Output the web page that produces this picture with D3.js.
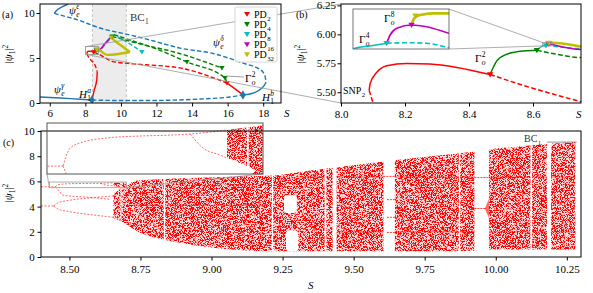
<!DOCTYPE html>
<html>
<head>
<meta charset="utf-8">
<script src="https://cdn.jsdelivr.net/npm/d3@7"></script>
<style>
  body { margin: 0; background: #fff; }
  svg { display: block; }
</style>
</head>
<body>
<svg id="fig" width="593" height="293"></svg>
<script>
// ---------- values: [S, |psi1|^2] ----------
// (a) stationary branch, split where stability changes
var blueSolid1 = [[5.45,0.67],[6.57,0.56],[7.70,0.41],[8.37,0.33]];
var blueDash1  = [[8.37,0.33],[9.95,0.28],[11.63,0.28],[14.44,0.44],[16.13,0.67],[16.86,0.89]];
var blueSolid2 = [[16.86,0.89],[17.42,1.08],[17.91,1.63],[18.13,2.19],[18.16,2.33]];
var blueDash2  = [[6.25,9.97],[6.57,9.78],[7.42,9.33],[8.82,8.33],[10.51,7.56],[11.63,7.0],[13.32,6.1],[15.18,5.5],[17.07,4.3],[17.6,3.95],[18.0,3.4],[18.1,3.0],[18.16,2.33]];
var blueSolid3 = [[6.25,9.97],[6.41,10.33],[6.69,10.67],[7.02,11.0]];

// periodic orbit branches
var redSolidA = [[8.37,0.33],[8.50,1.44],[8.64,2.56],[8.67,3.48]];
var redDashA  = [[8.088,5.517],[8.101,5.404],[8.14,5.25],[8.30,4.80],[8.54,4.22],[8.67,3.48]];
var redSolidB = [[8.088,5.517],[8.091,5.574],[8.112,5.672],[8.143,5.729],[8.205,5.748],[8.278,5.743],[8.362,5.714],[8.466,5.653]];
var redDashB  = [[8.466,5.653],[8.57,5.559],[8.674,5.475],[8.75,5.418],[9.55,4.6],[10.7,4.35],[13.3,3.9],[15.96,2.22]];
var redSolidC = [[15.96,2.22],[16.4,1.6],[16.86,0.89]];

var greenSolid = [[8.466,5.653],[8.487,5.771],[8.518,5.828],[8.57,5.856],[8.612,5.862]];
var greenDashL = [[8.612,5.862],[8.674,5.828],[8.75,5.799],[9.1,6.5],[9.5,7.4]];
var greenDashU = [[9.5,7.4],[11.0,6.6],[13.3,5.5],[15.68,3.89]];
var greenDashR = [[9.6,7.6],[10.2,7.2],[12.0,6.0],[13.71,4.56],[15.85,2.78],[15.96,2.22]];

var cyanSolid = [[8.612,5.862],[8.6306,5.9005],[8.6353,5.9023],[8.6405,5.9043]];
var cyanDash  = [[8.6405,5.9043],[8.6468,5.9047],[8.653,5.9043],[8.66,5.901],[8.75,5.877],[9.2,6.8],[9.55,7.5],[10.3,6.8],[11.18,5.67]];
var magentaLine = [[8.6405,5.9043],[8.6416,5.9105],[8.6437,5.9155],[8.6483,5.918],[8.653,5.9167],[8.66,5.9118],[8.75,5.869],[9.1,6.6],[9.45,7.35]];
var yellowA = [[8.6483,5.918],[8.6491,5.923],[8.6509,5.9255],[8.655,5.9268],[8.66,5.9268],[8.75,5.894],[9.22,5.35],[10.51,5.67]];
var yellowB = [[10.51,5.67],[9.665,6.89],[9.45,7.3]];

// bifurcation points
var hopfPts = [[8.37,0.33],[16.86,0.89]];
var pd2  = [[8.466,5.653],[15.96,2.22]];
var pd4  = [[8.612,5.862],[9.5,7.4],[13.71,4.56],[15.68,3.89],[15.85,2.78]];
var pd8  = [[8.6405,5.9043],[11.18,5.67]];
var pd16 = [[8.6483,5.918]];
var pd32 = [[8.6495,5.925],[9.45,7.3]];
var legendSubs = ["2","4","8","16","32"];

// shaded S range of panel (c)
var bandS = [8.40, 10.30];

// (c) bifurcation diagram: chaotic band outline
var chaosS  = [8.655,8.68,8.70,8.72,8.75,8.80,8.90,9.00,9.10,9.20,9.24,9.30,9.40,9.50,9.65,9.80,9.92,9.98,10.10,10.20,10.28];
var chaosLo = [3.1,2.85,2.6,2.3,1.9,1.55,1.1,0.75,0.55,0.45,0.45,0.45,0.45,0.45,0.45,0.45,0.5,0.6,0.6,0.6,0.6];
var chaosHi = [5.0,5.45,5.6,5.95,6.1,6.15,6.25,6.3,6.4,6.45,6.5,6.7,7.0,7.28,7.69,8.05,8.35,8.55,8.8,9.0,9.15];
var subS  = [8.655,8.68,8.70];
var subLo = [5.641,5.57,5.50];
var subHi = [5.888,5.91,5.93];
// periodic windows [S0, S1] and holes [S0, S1, low, high]
var gaps = [[8.680,8.682],[8.832,8.837],[9.212,9.217],[9.398,9.404],[9.426,9.440],[9.605,9.645],[9.870,9.875],[9.925,9.976],[10.122,10.128],[10.180,10.195]];
var holes = [[9.255,9.300,3.5,4.9],[9.262,9.305,0.45,2.1]];
// lines inside windows [S0, S1, value] and denser rows
var windowLines = [[9.617,9.645,4.55],[9.617,9.645,3.15],[9.617,9.645,1.95],[9.605,9.645,6.4],[9.925,9.966,3.85],[9.925,9.976,6.3]];
var fan = [[9.962,3.85,3.85],[9.976,3.1,4.6]];
var denseRows = [[8.70,9.20,4.1],[9.305,10.28,6.35],[9.44,10.28,2.0]];
// period-1 / period-2 branches before chaos
var p1   = [[8.40,5.57],[8.45,5.57]];
var p1u  = [[8.45,5.57],[8.459,5.729],[8.475,5.782],[8.505,5.818],[8.546,5.835],[8.5875,5.844],[8.609,5.853],[8.634,5.87],[8.655,5.888]];
var p1u2 = [[8.609,5.853],[8.625,5.729],[8.646,5.668],[8.655,5.641]];
var p1d  = [[8.45,5.57],[8.454,5.50],[8.465,5.2],[8.478,4.9],[8.56,4.75],[8.645,4.58]];
var p2   = [[8.40,4.05],[8.445,4.05]];
var p2u  = [[8.445,4.05],[8.46,4.3],[8.50,4.5],[8.58,4.7],[8.655,4.85]];
var p2d  = [[8.445,4.05],[8.46,3.8],[8.50,3.6],[8.58,3.35],[8.655,3.15]];

// ---------- drawing ----------
var BLUE = "#1f77b4", RED = "#ff0000", GREEN = "#008000", CYAN = "#00bfbf", MAGENTA = "#bf00bf", YELLOW = "#bfbf00";
var pdSets = [[pd2, RED], [pd4, GREEN], [pd8, CYAN], [pd16, MAGENTA], [pd32, YELLOW]];

var svg = d3.select("#fig").attr("font-family", "'Liberation Serif', 'Times New Roman', 'DejaVu Serif', serif");
var defs = svg.append("defs");
function clipRect(id, x0, y0, x1, y1) {
  defs.append("clipPath").attr("id", id).append("rect")
    .attr("x", x0).attr("y", y0).attr("width", x1 - x0).attr("height", y1 - y0);
  return "url(#" + id + ")";
}
// speckle texture for the chaotic cloud
var speck = defs.append("filter").attr("id", "speck").attr("x", 0).attr("y", 0).attr("width", 1).attr("height", 1);
speck.append("feTurbulence").attr("type", "fractalNoise").attr("baseFrequency", 1.4)
  .attr("numOctaves", 2).attr("seed", 7).attr("result", "noise");
speck.append("feColorMatrix").attr("in", "noise").attr("type", "matrix")
  .attr("values", "0 0 0 0 1  0 0 0 0 0  0 0 0 0 0  12 0 0 0 -5.6").attr("result", "dots");
speck.append("feComposite").attr("in", "dots").attr("in2", "SourceGraphic").attr("operator", "in");

var xa = d3.scaleLinear().domain([5.45, 19.0]).range([40, 281]);
var ya = d3.scaleLinear().domain([0, 11]).range([103, 4]);
var xb = d3.scaleLinear().domain([8.0, 8.75]).range([341, 581]);
var yb = d3.scaleLinear().domain([5.407, 6.262]).range([103, 4]);
var xbi = d3.scaleLinear().domain([8.63, 8.66]).range([353, 449]);
var ybi = d3.scaleLinear().domain([5.90, 5.93]).range([49, 9]);
var xc = d3.scaleLinear().domain([8.40, 10.30]).range([41, 581]);
var yc = d3.scaleLinear().domain([0, 10]).range([257, 131]);
var xci = d3.scaleLinear().domain([8.43, 8.70]).range([47, 263]);
var yci = d3.scaleLinear().domain([5.50, 5.95]).range([174, 123]);

var branches = [
  {d: blueSolid1, c: BLUE}, {d: blueDash1, c: BLUE, dash: 1}, {d: blueSolid2, c: BLUE},
  {d: blueDash2, c: BLUE, dash: 1}, {d: blueSolid3, c: BLUE},
  {d: redSolidA, c: RED}, {d: redDashA, c: RED, dash: 1}, {d: redSolidB, c: RED},
  {d: redDashB, c: RED, dash: 1}, {d: redSolidC, c: RED},
  {d: greenSolid, c: GREEN}, {d: greenDashL, c: GREEN, dash: 1},
  {d: greenDashU, c: GREEN, dash: 1}, {d: greenDashR, c: GREEN, dash: 1},
  {d: cyanSolid, c: CYAN}, {d: cyanDash, c: CYAN, dash: 1},
  {d: magentaLine, c: MAGENTA},
  {d: yellowA, c: YELLOW, w: 1.7}, {d: yellowB, c: YELLOW, w: 1.7, lin: 1}
];

function drawBranches(g, x, y, lw) {
  branches.forEach(function(b) {
    var line = d3.line().x(d => x(d[0])).y(d => y(d[1]))
      .curve(b.lin ? d3.curveLinear : d3.curveMonotoneX);
    g.append("path").datum(b.d).attr("d", line)
      .attr("fill", "none").attr("stroke", b.c)
      .attr("stroke-width", lw * (b.w || 1))
      .attr("stroke-dasharray", b.dash ? (3.2 * lw) + "," + (1.6 * lw) : null);
  });
}

function tri(h) { return "M" + (-h) + "," + (-h * 0.7) + "L" + h + "," + (-h * 0.7) + "L0," + (h * 0.95) + "Z"; }
function inside(x, y, p) {
  var dx = x.domain(), dy = y.domain();
  return p[0] >= dx[0] && p[0] <= dx[1] && p[1] >= dy[0] && p[1] <= dy[1];
}
function drawMarks(g, x, y, h) {
  pdSets.forEach(function(s) {
    s[0].filter(p => inside(x, y, p)).forEach(function(p) {
      g.append("path").attr("d", tri(h)).attr("fill", s[1])
        .attr("transform", "translate(" + x(p[0]) + "," + y(p[1]) + ")");
    });
  });
}

function mlabel(g, x, y, base, sub, sup, o) {
  o = o || {};
  var fs = o.fs || 11, fill = o.fill || "#000";
  var t = g.append("text").attr("x", x).attr("y", y).attr("font-size", fs).attr("fill", fill)
    .attr("font-style", o.it ? "italic" : null).text(base);
  var w = t.node().getComputedTextLength();
  var isLetter = s => /[a-zα-ω]/i.test(s);
  if (sub) g.append("text").attr("x", x + w + 0.4).attr("y", y + fs * 0.3)
    .attr("font-size", fs * 0.68).attr("fill", fill)
    .attr("font-style", isLetter(sub) ? "italic" : null).text(sub);
  if (sup) g.append("text").attr("x", x + w + 0.4).attr("y", y - fs * 0.42)
    .attr("font-size", fs * 0.68).attr("fill", fill)
    .attr("font-style", isLetter(sup) ? "italic" : null).text(sup);
}

function yLabel(x, y) {
  var t = svg.append("text").attr("transform", "translate(" + x + "," + y + ") rotate(-90)")
    .attr("text-anchor", "middle").attr("font-size", 11);
  t.append("tspan").text("|");
  t.append("tspan").attr("font-style", "italic").text("ψ");
  t.append("tspan").attr("font-size", 7.5).attr("dy", 2.5).text("1");
  t.append("tspan").attr("dy", -2.5).text("|");
  t.append("tspan").attr("font-size", 7.5).attr("dy", -4).text("2");
}

function axes(x, y, xt, yt, xf, yf, padX, padY) {
  var r = [x.range()[0], y.range()[1], x.range()[1], y.range()[0]];
  svg.append("g").attr("transform", "translate(0," + r[3] + ")")
    .call(d3.axisBottom(x).tickValues(xt).tickFormat(xf).tickSize(3.5).tickPadding(padX))
    .call(s => s.select(".domain").remove())
    .attr("font-family", null).attr("font-size", 11);
  svg.append("g").attr("transform", "translate(" + r[0] + ",0)")
    .call(d3.axisLeft(y).tickValues(yt).tickFormat(yf).tickSize(3.5).tickPadding(padY))
    .call(s => s.select(".domain").remove())
    .attr("font-family", null).attr("font-size", 11);
  svg.append("rect").attr("x", r[0]).attr("y", r[1]).attr("width", r[2] - r[0]).attr("height", r[3] - r[1])
    .attr("fill", "none").attr("stroke", "#000").attr("stroke-width", 1);
}

// ----- panel (a) -----
var ga = svg.append("g").attr("clip-path", clipRect("ca", 40, 4, 281, 103));
ga.append("rect").attr("x", xa(bandS[0])).attr("y", 4).attr("width", xa(bandS[1]) - xa(bandS[0])).attr("height", 99)
  .attr("fill", "#ececec");
bandS.forEach(function(s) {
  ga.append("line").attr("x1", xa(s)).attr("x2", xa(s)).attr("y1", 4).attr("y2", 103)
    .attr("stroke", "#c4c4c4").attr("stroke-width", 1).attr("stroke-dasharray", "3,2");
});
drawBranches(ga, xa, ya, 1.4);
hopfPts.forEach(function(p) {
  ga.append("path").attr("d", d3.symbol(d3.symbolDiamond, 26)()).attr("fill", BLUE)
    .attr("transform", "translate(" + xa(p[0]) + "," + ya(p[1]) + ")");
});
drawMarks(ga, xa, ya, 2.7);
// zoom box for (b)
ga.append("rect").attr("x", xa(8.0)).attr("y", ya(6.262)).attr("width", xa(8.75) - xa(8.0)).attr("height", ya(5.407) - ya(6.262))
  .attr("fill", "none").attr("stroke", "#8a8a8a").attr("stroke-width", 0.8);

mlabel(svg, 69, 14, "ψ", "e", "ε", {it: 1});
mlabel(svg, 54, 93, "ψ", "e", "γ", {it: 1});
mlabel(svg, 79, 97.5, "H", "1", "a", {it: 1});
mlabel(svg, 213, 46, "ψ", "e", "δ", {it: 1});
mlabel(svg, 262, 100.5, "H", "1", "b", {it: 1});
svg.append("line").attr("x1", xa(15.9)).attr("y1", ya(3.0)).attr("x2", 244).attr("y2", 77)
  .attr("stroke", "#888").attr("stroke-width", 0.8);
mlabel(svg, 245, 81.5, "Γ", "o", "2");
mlabel(svg, 130, 21, "BC", "1", null, {fill: "#333"});

// ----- panel (b) -----
var gb = svg.append("g").attr("clip-path", clipRect("cb", 341, 4, 581, 103));
drawBranches(gb, xb, yb, 1.5);
drawMarks(gb, xb, yb, 3.2);
gb.append("rect").attr("x", xb(8.63)).attr("y", yb(5.93)).attr("width", xb(8.66) - xb(8.63)).attr("height", yb(5.90) - yb(5.93))
  .attr("fill", "none").attr("stroke", "#8a8a8a").attr("stroke-width", 0.7);
mlabel(svg, 475, 61.5, "Γ", "o", "2");
mlabel(svg, 343, 94, "SNP", "2", null, {fs: 10});

// connectors (a) -> (b) and (b) inset
var conn = [[xa(8.0), ya(6.262), 341, 4], [xa(8.0), ya(5.407), 341, 103],
            [449, 9, xb(8.63), yb(5.93)], [449, 49, xb(8.63), yb(5.90)]];
conn.forEach(function(c) {
  svg.append("line").attr("x1", c[0]).attr("y1", c[1]).attr("x2", c[2]).attr("y2", c[3])
    .attr("stroke", "#999").attr("stroke-width", 0.8);
});

// inset of (b)
svg.append("rect").attr("x", 353).attr("y", 9).attr("width", 96).attr("height", 40).attr("fill", "#fff");
var gbi = svg.append("g").attr("clip-path", clipRect("cbi", 353, 9, 449, 49));
drawBranches(gbi, xbi, ybi, 1.6);
drawMarks(gbi, xbi, ybi, 3.2);
svg.append("rect").attr("x", 353).attr("y", 9).attr("width", 96).attr("height", 40)
  .attr("fill", "none").attr("stroke", "#666").attr("stroke-width", 0.9);
mlabel(svg, 384, 22, "Γ", "o", "8");
mlabel(svg, 359, 43, "Γ", "o", "4");

// ----- panel (c) -----
function drawC(g, x, y) {
  var area = d3.area().x(d => x(d[0])).y0(d => y(d[1])).y1(d => y(d[2])).curve(d3.curveMonotoneX);
  var band = chaosS.map((s, i) => [s, chaosLo[i], chaosHi[i]]);
  var sub = subS.map((s, i) => [s, subLo[i], subHi[i]]);
  [band, sub].forEach(function(b) {
    g.append("path").datum(b).attr("d", area).attr("fill", RED).attr("fill-opacity", 0.15);
  });
  var cloud = g.append("g").attr("filter", "url(#speck)");
  [band, sub].forEach(function(b) {
    cloud.append("path").datum(b).attr("d", area).attr("fill", RED);
  });
  denseRows.forEach(function(d) {
    g.append("line").attr("x1", x(d[0])).attr("x2", x(d[1])).attr("y1", y(d[2])).attr("y2", y(d[2]))
      .attr("stroke", RED).attr("stroke-width", 1.4).attr("stroke-opacity", 0.4);
  });
  var y0 = y.range()[1], y1 = y.range()[0];
  gaps.forEach(function(d) {
    g.append("rect").attr("x", x(d[0])).attr("width", Math.max(1, x(d[1]) - x(d[0])))
      .attr("y", y0).attr("height", y1 - y0).attr("fill", "#fff");
  });
  holes.forEach(function(d) {
    g.append("rect").attr("x", x(d[0])).attr("width", x(d[1]) - x(d[0]))
      .attr("y", y(d[3])).attr("height", y(d[2]) - y(d[3])).attr("rx", 3).attr("fill", "#fff");
  });
  windowLines.forEach(function(d) {
    g.append("line").attr("x1", x(d[0])).attr("x2", x(d[1])).attr("y1", y(d[2])).attr("y2", y(d[2]))
      .attr("stroke", RED).attr("stroke-width", 1).attr("stroke-dasharray", "2,1").attr("stroke-opacity", 0.8);
  });
  g.append("path").datum(fan).attr("d", area).attr("fill", RED).attr("fill-opacity", 0.6);
  var line = d3.line().x(d => x(d[0])).y(d => y(d[1])).curve(d3.curveMonotoneX);
  [p1, p1u, p1u2, p1d, p2, p2u, p2d].forEach(function(p) {
    g.append("path").datum(p).attr("d", line).attr("fill", "none")
      .attr("stroke", RED).attr("stroke-opacity", 0.65).attr("stroke-width", 0.9).attr("stroke-dasharray", "2,1.5");
  });
}
var gc = svg.append("g").attr("clip-path", clipRect("cc", 41, 131, 581, 257));
drawC(gc, xc, yc);
gc.append("rect").attr("x", xc(8.43)).attr("y", yc(5.95)).attr("width", xc(8.70) - xc(8.43)).attr("height", yc(5.50) - yc(5.95))
  .attr("fill", "none").attr("stroke", "#999").attr("stroke-width", 0.8);
svg.append("line").attr("x1", 547).attr("y1", yc(9.12)).attr("x2", xc(10.285)).attr("y2", yc(9.12))
  .attr("stroke", "#777").attr("stroke-width", 0.8);
mlabel(svg, 524, 141.5, "BC", "1", null, {fs: 10, fill: "#333"});

// inset of (c)
[[47, 174, xc(8.43), yc(5.50)], [263, 174, xc(8.70), yc(5.50)]].forEach(function(c) {
  svg.append("line").attr("x1", c[0]).attr("y1", c[1]).attr("x2", c[2]).attr("y2", c[3])
    .attr("stroke", "#999").attr("stroke-width", 0.8);
});
svg.append("rect").attr("x", 47).attr("y", 123).attr("width", 216).attr("height", 51).attr("fill", "#fff");
var gci = svg.append("g").attr("clip-path", clipRect("cci", 47, 123, 263, 174));
drawC(gci, xci, yci);

// axes and frames
axes(xa, ya, [6,8,10,12,14,16,18], [0,5,10], d3.format("d"), d3.format("d"), 2.2, 1.8);
axes(xb, yb, [8.0,8.2,8.4,8.6], [5.50,5.75,6.00,6.25], d3.format(".1f"), d3.format(".2f"), 3.5, 1.5);
axes(xc, yc, [8.50,8.75,9.00,9.25,9.50,9.75,10.00,10.25], [0,2,4,6,8,10], d3.format(".2f"), d3.format("d"), 5, 2.8);
svg.append("rect").attr("x", 47).attr("y", 123).attr("width", 216).attr("height", 51)
  .attr("fill", "none").attr("stroke", "#555").attr("stroke-width", 1);

// legend in (a)
var lg = svg.append("g");
lg.append("rect").attr("x", 235).attr("y", 7).attr("width", 42).attr("height", 55).attr("rx", 2)
  .attr("fill", "#fff").attr("fill-opacity", 0.9).attr("stroke", "#ccc").attr("stroke-width", 0.8);
pdSets.forEach(function(s, i) {
  var cy = 14 + i * 10.1;
  lg.append("path").attr("d", tri(3)).attr("fill", s[1]).attr("transform", "translate(247," + cy + ")");
  mlabel(lg, 254, cy + 3.5, "PD", legendSubs[i], null, {fs: 10});
});

// axis titles and panel tags
svg.append("text").attr("x", 284).attr("y", 116.5).attr("font-size", 11).attr("font-style", "italic").text("S");
svg.append("text").attr("x", 576).attr("y", 118).attr("font-size", 11).attr("font-style", "italic").text("S");
svg.append("text").attr("x", 308).attr("y", 288.5).attr("font-size", 11).attr("font-style", "italic").text("S");
yLabel(12, 54);
yLabel(304, 54);
yLabel(12, 193);
svg.append("text").attr("x", 2).attr("y", 18).attr("font-size", 10).text("(a)");
svg.append("text").attr("x", 296).attr("y", 18).attr("font-size", 10).text("(b)");
svg.append("text").attr("x", 3).attr("y", 146).attr("font-size", 10).text("(c)");
</script>
</body>
</html>
